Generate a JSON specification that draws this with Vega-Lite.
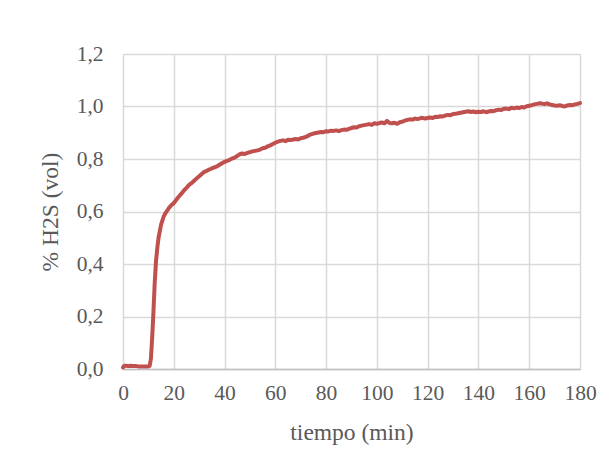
{
  "$schema": "https://vega.github.io/schema/vega-lite/v6.json",
  "width": 457,
  "height": 315,
  "autosize": {"type": "none"},
  "padding": {"left": 123, "top": 54, "right": 36, "bottom": 103},
  "background": "white",
  "config": {
    "view": {"stroke": null},
    "font": "Liberation Serif",
    "axis": {
      "labelFont": "Liberation Serif",
      "titleFont": "Liberation Serif",
      "labelColor": "#595959",
      "titleColor": "#595959",
      "labelFontSize": 21.5,
      "titleFontSize": 23.5,
      "titleFontWeight": "normal",
      "gridColor": "#d9d9d9",
      "gridWidth": 1.5,
      "ticks": false
    }
  },
  "data": {
    "values": [
      {"t": 0, "v": 0.006}, {"t": 0.5, "v": 0.012}, {"t": 1, "v": 0.012}, {"t": 2, "v": 0.011},
      {"t": 3, "v": 0.012}, {"t": 4, "v": 0.011}, {"t": 5, "v": 0.011}, {"t": 6, "v": 0.010},
      {"t": 7, "v": 0.010}, {"t": 8, "v": 0.010}, {"t": 9, "v": 0.010}, {"t": 10, "v": 0.010},
      {"t": 10.5, "v": 0.012}, {"t": 11, "v": 0.04}, {"t": 11.5, "v": 0.12}, {"t": 12, "v": 0.22},
      {"t": 12.5, "v": 0.33}, {"t": 13, "v": 0.41}, {"t": 13.5, "v": 0.46}, {"t": 14, "v": 0.50},
      {"t": 14.5, "v": 0.525}, {"t": 15, "v": 0.55}, {"t": 15.5, "v": 0.565}, {"t": 16, "v": 0.58},
      {"t": 16.5, "v": 0.59}, {"t": 17, "v": 0.598}, {"t": 18, "v": 0.612}, {"t": 19, "v": 0.624},
      {"t": 20, "v": 0.632}, {"t": 21, "v": 0.645}, {"t": 22, "v": 0.657}, {"t": 23, "v": 0.668},
      {"t": 24, "v": 0.680}, {"t": 25, "v": 0.690}, {"t": 26, "v": 0.701}, {"t": 27, "v": 0.708},
      {"t": 28, "v": 0.717}, {"t": 29, "v": 0.726}, {"t": 30, "v": 0.734}, {"t": 31, "v": 0.743},
      {"t": 32, "v": 0.751}, {"t": 33, "v": 0.755}, {"t": 34, "v": 0.760}, {"t": 35, "v": 0.764},
      {"t": 36, "v": 0.768}, {"t": 37, "v": 0.772}, {"t": 38, "v": 0.778}, {"t": 39, "v": 0.784},
      {"t": 40, "v": 0.789}, {"t": 41, "v": 0.793}, {"t": 42, "v": 0.797}, {"t": 43, "v": 0.802},
      {"t": 44, "v": 0.805}, {"t": 45, "v": 0.812}, {"t": 46, "v": 0.818}, {"t": 47, "v": 0.821},
      {"t": 48, "v": 0.819}, {"t": 49, "v": 0.823}, {"t": 50, "v": 0.826}, {"t": 51, "v": 0.829},
      {"t": 52, "v": 0.831}, {"t": 53, "v": 0.833}, {"t": 54, "v": 0.836}, {"t": 55, "v": 0.841},
      {"t": 56, "v": 0.843}, {"t": 57, "v": 0.848}, {"t": 58, "v": 0.852}, {"t": 59, "v": 0.857},
      {"t": 60, "v": 0.862}, {"t": 61, "v": 0.866}, {"t": 62, "v": 0.869}, {"t": 63, "v": 0.871},
      {"t": 64, "v": 0.868}, {"t": 65, "v": 0.873}, {"t": 66, "v": 0.872}, {"t": 67, "v": 0.874},
      {"t": 68, "v": 0.876}, {"t": 69, "v": 0.874}, {"t": 70, "v": 0.879}, {"t": 71, "v": 0.881},
      {"t": 72, "v": 0.884}, {"t": 73, "v": 0.889}, {"t": 74, "v": 0.894}, {"t": 75, "v": 0.897},
      {"t": 76, "v": 0.899}, {"t": 77, "v": 0.901}, {"t": 78, "v": 0.903}, {"t": 79, "v": 0.902},
      {"t": 80, "v": 0.906}, {"t": 81, "v": 0.905}, {"t": 82, "v": 0.908}, {"t": 83, "v": 0.907},
      {"t": 84, "v": 0.909}, {"t": 85, "v": 0.906}, {"t": 86, "v": 0.910}, {"t": 87, "v": 0.912},
      {"t": 88, "v": 0.911}, {"t": 89, "v": 0.915}, {"t": 90, "v": 0.918}, {"t": 91, "v": 0.921},
      {"t": 92, "v": 0.920}, {"t": 93, "v": 0.925}, {"t": 94, "v": 0.927}, {"t": 95, "v": 0.929},
      {"t": 96, "v": 0.931}, {"t": 97, "v": 0.933}, {"t": 98, "v": 0.930}, {"t": 99, "v": 0.936},
      {"t": 100, "v": 0.934}, {"t": 101, "v": 0.937}, {"t": 102, "v": 0.939}, {"t": 103, "v": 0.936},
      {"t": 104, "v": 0.945}, {"t": 105, "v": 0.937}, {"t": 106, "v": 0.936}, {"t": 107, "v": 0.938},
      {"t": 108, "v": 0.934}, {"t": 109, "v": 0.940}, {"t": 110, "v": 0.942}, {"t": 111, "v": 0.946},
      {"t": 112, "v": 0.949}, {"t": 113, "v": 0.951}, {"t": 114, "v": 0.950}, {"t": 115, "v": 0.954},
      {"t": 116, "v": 0.952}, {"t": 117, "v": 0.955}, {"t": 118, "v": 0.957}, {"t": 119, "v": 0.954},
      {"t": 120, "v": 0.956}, {"t": 121, "v": 0.958}, {"t": 122, "v": 0.956}, {"t": 123, "v": 0.961},
      {"t": 124, "v": 0.960}, {"t": 125, "v": 0.963}, {"t": 126, "v": 0.962}, {"t": 127, "v": 0.966},
      {"t": 128, "v": 0.968}, {"t": 129, "v": 0.967}, {"t": 130, "v": 0.971}, {"t": 131, "v": 0.972},
      {"t": 132, "v": 0.974}, {"t": 133, "v": 0.976}, {"t": 134, "v": 0.978}, {"t": 135, "v": 0.980},
      {"t": 136, "v": 0.982}, {"t": 137, "v": 0.979}, {"t": 138, "v": 0.981}, {"t": 139, "v": 0.978},
      {"t": 140, "v": 0.980}, {"t": 141, "v": 0.979}, {"t": 142, "v": 0.982}, {"t": 143, "v": 0.978},
      {"t": 144, "v": 0.981}, {"t": 145, "v": 0.983}, {"t": 146, "v": 0.982}, {"t": 147, "v": 0.986},
      {"t": 148, "v": 0.988}, {"t": 149, "v": 0.987}, {"t": 150, "v": 0.991}, {"t": 151, "v": 0.992},
      {"t": 152, "v": 0.990}, {"t": 153, "v": 0.995}, {"t": 154, "v": 0.993}, {"t": 155, "v": 0.996},
      {"t": 156, "v": 0.994}, {"t": 157, "v": 0.998}, {"t": 158, "v": 0.996}, {"t": 159, "v": 1.001},
      {"t": 160, "v": 1.003}, {"t": 161, "v": 1.005}, {"t": 162, "v": 1.008}, {"t": 163, "v": 1.010},
      {"t": 164, "v": 1.012}, {"t": 165, "v": 1.011}, {"t": 166, "v": 1.009}, {"t": 167, "v": 1.012},
      {"t": 168, "v": 1.008}, {"t": 169, "v": 1.006}, {"t": 170, "v": 1.004}, {"t": 171, "v": 1.003},
      {"t": 172, "v": 1.005}, {"t": 173, "v": 1.002}, {"t": 174, "v": 1.000}, {"t": 175, "v": 1.004},
      {"t": 176, "v": 1.006}, {"t": 177, "v": 1.005}, {"t": 178, "v": 1.008}, {"t": 179, "v": 1.010},
      {"t": 180, "v": 1.013}
    ]
  },
  "mark": {"type": "line", "color": "#c0504d", "strokeWidth": 4, "strokeJoin": "round", "strokeCap": "round"},
  "encoding": {
    "x": {
      "field": "t",
      "type": "quantitative",
      "title": "tiempo (min)",
      "scale": {"domain": [0, 180], "nice": false},
      "axis": {
        "values": [0, 20, 40, 60, 80, 100, 120, 140, 160, 180],
        "labelPadding": 13,
        "titlePadding": 17,
        "domainColor": "#bfbfbf",
        "domainWidth": 1.5,
        "labelFlush": false
      }
    },
    "y": {
      "field": "v",
      "type": "quantitative",
      "title": "% H2S (vol)",
      "scale": {"domain": [0, 1.2], "nice": false},
      "axis": {
        "values": [0, 0.2, 0.4, 0.6, 0.8, 1.0, 1.2],
        "labelExpr": "replace(format(datum.value, '.1f'), '.', ',')",
        "labelPadding": 20,
        "titlePadding": 14,
        "domain": false,
        "labelFlush": false
      }
    }
  }
}
